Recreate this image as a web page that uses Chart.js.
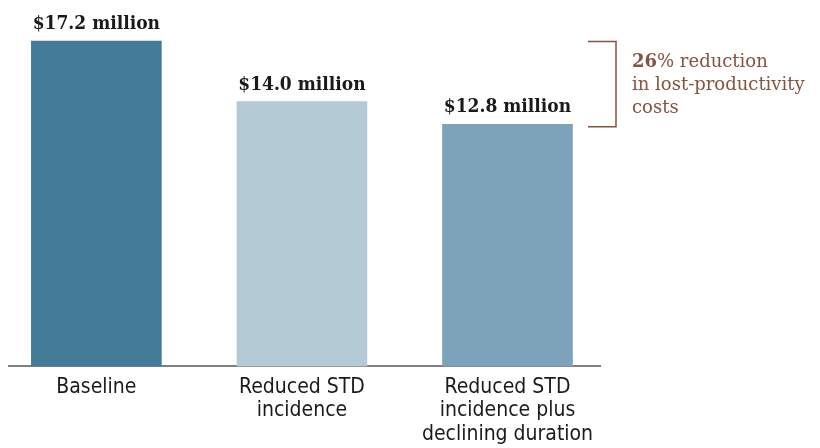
<!DOCTYPE html>
<html>
<head>
<meta charset="utf-8">
<script src="https://cdn.jsdelivr.net/npm/chart.js@4/dist/chart.umd.min.js"></script>
<style>
  html, body { margin: 0; padding: 0; background: #ffffff; }
  #wrap { width: 820px; height: 448px; position: relative; }
</style>
</head>
<body>
<div id="wrap"><canvas id="c" width="820" height="448"></canvas></div>
<script>
// Scenario names (multi-line axis labels)
const categories = [
  ['Baseline'],
  ['Reduced STD', 'incidence'],
  ['Reduced STD', 'incidence plus', 'declining duration']
];
// Lost-productivity costs, $ millions
const costs = [17.2, 14.0, 12.8];
const valueLabels = ['$17.2 million', '$14.0 million', '$12.8 million'];
const barColors = ['#437b99', '#b4cbd6', '#7ca3ba'];
// Reduction note next to the bracket
const noteBold = '26';
const noteLines = ['% reduction', 'in lost-productivity', 'costs'];

const BROWN = '#86533f';
const SERIF = '"DejaVu Serif", serif';
const SERIF_COND = '"DejaVu Serif Condensed", "DejaVu Serif", serif';

const valueLabelPlugin = {
  id: 'valueLabels',
  afterDatasetsDraw(chart) {
    const ctx = chart.ctx;
    const meta = chart.getDatasetMeta(0);
    ctx.save();
    ctx.font = 'bold 19px ' + SERIF_COND;
    ctx.fillStyle = '#1a1a1a';
    ctx.textAlign = 'center';
    ctx.textBaseline = 'alphabetic';
    meta.data.forEach((bar, i) => {
      ctx.fillText(valueLabels[i], bar.x, bar.y - 12);
    });
    ctx.restore();
  }
};

const bracketPlugin = {
  id: 'bracket',
  afterDraw(chart) {
    const ctx = chart.ctx;
    const y = chart.scales.y;
    const area = chart.chartArea;
    const top = y.getPixelForValue(Math.max(...costs)) + 0.5;
    const bottom = y.getPixelForValue(Math.min(...costs)) + 2.5;
    const x0 = area.right - 12;
    const x1 = area.right + 16;
    ctx.save();
    ctx.strokeStyle = BROWN;
    ctx.lineWidth = 1.5;
    ctx.beginPath();
    ctx.moveTo(x0, top);
    ctx.lineTo(x1, top);
    ctx.lineTo(x1, bottom);
    ctx.lineTo(x0, bottom);
    ctx.stroke();

    const tx = area.right + 32;
    const ty = top + 25;
    const lh = 23;
    ctx.fillStyle = BROWN;
    ctx.textAlign = 'left';
    ctx.textBaseline = 'alphabetic';
    ctx.font = 'bold 18px ' + SERIF;
    ctx.fillText(noteBold, tx, ty);
    const w = ctx.measureText(noteBold).width;
    ctx.font = '18px ' + SERIF;
    ctx.fillText(noteLines[0], tx + w, ty);
    ctx.fillText(noteLines[1], tx, ty + lh);
    ctx.fillText(noteLines[2], tx, ty + 2 * lh);
    ctx.restore();
  }
};

new Chart(document.getElementById('c'), {
  type: 'bar',
  data: {
    datasets: [{
      data: costs.map((v, i) => ({ x: i, y: v })),
      backgroundColor: barColors,
      borderWidth: 0,
      barThickness: 130
    }]
  },
  options: {
    responsive: false,
    animation: false,
    devicePixelRatio: 1,
    layout: { padding: { left: 9, right: 220, top: 7, bottom: -7 } },
    plugins: { legend: { display: false }, tooltip: { enabled: false } },
    scales: {
      x: {
        type: 'linear',
        offset: false,
        min: -0.425,
        max: 2.45,
        afterBuildTicks(scale) {
          scale.ticks = categories.map((_, i) => ({ value: i }));
        },
        grid: { display: false, drawTicks: false },
        border: { display: true, color: '#808080', width: 2 },
        ticks: {
          autoSkip: false,
          maxRotation: 0,
          padding: 9,
          color: '#1a1a1a',
          font: { family: '"DejaVu Sans Condensed", "DejaVu Sans", sans-serif', size: 21, lineHeight: 1.12 },
          callback: (v) => categories[v]
        }
      },
      y: {
        display: false,
        min: 0,
        max: 19
      }
    }
  },
  plugins: [valueLabelPlugin, bracketPlugin]
});
</script>
</body>
</html>
